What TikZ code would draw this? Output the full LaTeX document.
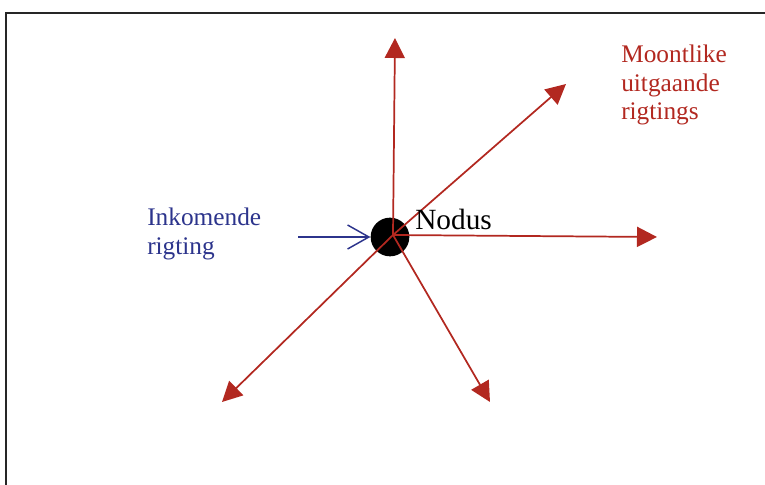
\documentclass[tikz,border=0pt]{standalone}
\usepackage{fontspec}
\setmainfont{Liberation Serif}
\usetikzlibrary{arrows.meta}
\definecolor{uitrooi}{RGB}{178,40,32}
\definecolor{inblou}{RGB}{44,52,140}

\begin{document}
\begin{tikzpicture}[x=0.75pt,y=-0.75pt,
  uit/.style={draw=uitrooi,line width=1.3pt,-{Triangle[length=15pt,width=15pt]},fill=uitrooi},
  inn/.style={draw=inblou,line width=1.1pt,-{Straight Barb[length=16pt,width=18pt,line width=1.1pt]}},
  lbl/.style={anchor=base west,inner sep=0pt,align=left,font=\fontsize{19}{21.5}\selectfont}]
  \useasboundingbox (0,0) rectangle (765,485);
  % open frame
  \draw[black!85,line width=1.5pt] (6,486) -- (6,13) -- (766,13);
  % node and its outgoing directions
  \node[circle,fill=black,minimum size=29pt,inner sep=0pt] (nodus) at (390,237) {};
  \coordinate (o) at (393,235);
  \coordinate (op) at (395,38);
  \coordinate (regsbo) at (566,84);
  \coordinate (regs) at (657,237);
  \coordinate (regsonder) at (490,402);
  \coordinate (linksonder) at (222,402);
  \foreach \t in {op,regsbo,regs,regsonder,linksonder}
    \draw[uit] (o) -- (\t);
  % incoming direction
  \coordinate (in) at (298,237);
  \draw[inn] (in) -- (nodus.west);
  % labels (base = last line)
  \node[lbl,font=\fontsize{22}{24}\selectfont] (ntxt) at (415,229) {Nodus};
  \node[lbl,text=inblou] (intxt) at (147,254) {Inkomende\\rigting};
  \node[lbl,text=uitrooi] (uittxt) at (621,120) {Moontlike\\uitgaande\\rigtings};
\end{tikzpicture}
\end{document}
